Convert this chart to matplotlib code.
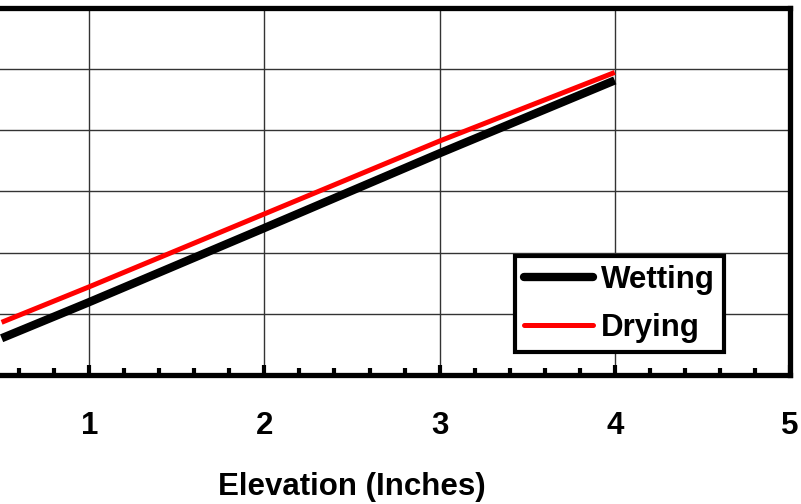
import matplotlib.pyplot as plt
import numpy as np

plt.rcParams['font.family'] = ['Liberation Sans', 'DejaVu Sans']

# values (y axis labels are cropped away in the reference)
elevation = [0.5, 1, 2, 3, 4]
wetting = [0.60, 1.19, 2.40, 3.62, 4.81]
drying = [0.86, 1.44, 2.63, 3.82, 4.94]
xticks = [1, 2, 3, 4, 5]
yticks = [1, 2, 3, 4, 5]

fig = plt.figure(figsize=(8.01, 5.04), dpi=100)
# the reference is a crop: the axes starts left of the visible image
ax = fig.add_axes([-86 / 801, 129 / 504, 876 / 801, 367.5 / 504])

ax.plot(elevation, wetting, color='black', lw=6, solid_capstyle='butt', label='Wetting')
ax.plot(elevation, drying, color='red', lw=3.6, solid_capstyle='butt', label='Drying')

ax.set_xlim(0, 5.0)
ax.set_ylim(0, 6)
ax.set_xticks(xticks)
ax.set_xticks(np.arange(0.2, 5.0, 0.2), minor=True)
ax.set_yticks(yticks)
ax.set_xticklabels([str(t) for t in xticks], fontsize=22.5, fontweight='bold')
ax.set_yticklabels([])
ax.tick_params(axis='x', which='major', direction='in', length=7, width=3, pad=26)
ax.tick_params(axis='x', which='minor', direction='in', length=5, width=3)
ax.tick_params(axis='y', length=0)
ax.grid(True, which='major', color='#333333', lw=1)
ax.set_axisbelow(True)

for side in ['top', 'bottom', 'right']:
    ax.spines[side].set_linewidth(3.8)
ax.spines['left'].set_visible(False)

ax.set_xlabel('Elevation (Inches)', fontsize=22.5, fontweight='bold', labelpad=22)

leg = ax.legend(loc='lower left', bbox_to_anchor=(601 / 876, 0.0626), fancybox=False,
                framealpha=1, edgecolor='black', prop={'size': 22.5, 'weight': 'bold'},
                handlelength=2.2, handletextpad=0.25, borderpad=0.3, labelspacing=0.55,
                borderaxespad=0)
leg.get_frame().set_linewidth(3)
for h in leg.get_lines():
    h.set_solid_capstyle('round')

fig.savefig('out.png', dpi=100)
